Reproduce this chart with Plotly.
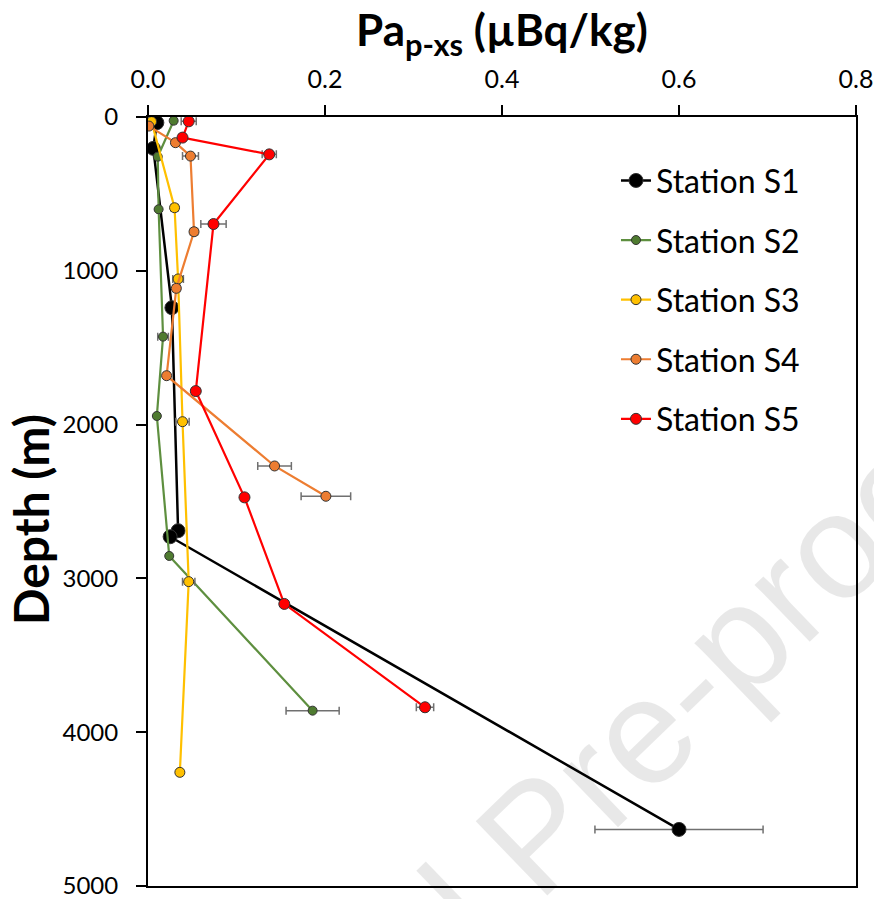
import plotly.graph_objects as go

# ---- data (Pa_p-xs in µBq/kg vs depth in m) ----
s1_x = [0.010, 0.006, 0.027, 0.034, 0.025, 0.600]
s1_d = [37, 204, 1240, 2690, 2729, 4632]
s1_e = [0.002, 0.002, 0.002, 0.002, 0.002, 0.095]

s2_x = [0.029, 0.011, 0.012, 0.017, 0.010, 0.024, 0.186]
s2_d = [24, 258, 600, 1428, 1944, 2854, 3860]
s2_e = [0.003, 0.002, 0.002, 0.006, 0.002, 0.002, 0.030]

s3_x = [0.004, 0.030, 0.034, 0.039, 0.046, 0.036]
s3_d = [30, 590, 1053, 1981, 3021, 4261]
s3_e = [0.002, 0.004, 0.006, 0.0075, 0.007, 0.003]

s4_x = [0.001, 0.031, 0.048, 0.052, 0.032, 0.021, 0.143, 0.201]
s4_d = [59, 167, 254, 746, 1114, 1682, 2269, 2466]
s4_e = [0.002, 0.003, 0.009, 0.004, 0.004, 0.003, 0.019, 0.028]

s5_x = [0.046, 0.039, 0.137, 0.074, 0.054, 0.109, 0.154, 0.313]
s5_d = [28, 134, 243, 696, 1782, 2473, 3166, 3838]
s5_e = [0.0085, 0.004, 0.008, 0.0143, 0.004, 0.004, 0.004, 0.0098]

names = ["Station S1", "Station S2", "Station S3", "Station S4", "Station S5"]
line_colors = ["#000000", "#5E8F3F", "#FFC000", "#ED7D31", "#FF0000"]
marker_colors = ["#000000", "#4F7B30", "#FFC000", "#ED7D31", "#FF0000"]
marker_sizes = [14, 9, 10, 10, 11]
line_widths = [2.5, 2.2, 2.2, 2.2, 2.2]

series = [(s1_x, s1_d, s1_e), (s2_x, s2_d, s2_e), (s3_x, s3_d, s3_e),
          (s4_x, s4_d, s4_e), (s5_x, s5_d, s5_e)]

FONT = "Lato"
W, H = 874, 899
ML, MR, MT, MB = 148, 18, 117, 13
PW, PH = W - ML - MR, H - MT - MB

fig = go.Figure()
for i, (xs, ds, es) in enumerate(series):
    fig.add_trace(go.Scatter(
        x=xs, y=ds, mode="lines+markers", name=names[i],
        legendgroup=names[i],
        line=dict(color=line_colors[i], width=line_widths[i]),
        marker=dict(color=marker_colors[i], size=marker_sizes[i],
                    line=dict(color="#333333", width=1)),
        error_x=dict(type="data", array=es, visible=True,
                     color="#707070", thickness=1.5, width=4),
    ))

fig.update_layout(
    width=W, height=H,
    margin=dict(l=ML, r=MR, t=MT, b=MB, autoexpand=False),
    paper_bgcolor="white", plot_bgcolor="white",
    font=dict(family=FONT, color="black"),
    title=dict(text="<b>Pa<sub>p-xs</sub> (µBq/kg)</b>",
               x=0.5, xref="paper", xanchor="center",
               y=1 - 31 / H, yref="container", yanchor="middle",
               font=dict(family=FONT, size=44, color="black")),
    legend=dict(x=0.661, y=0.953, xanchor="left", yanchor="top",
                font=dict(family=FONT, size=32, color="black"),
                bgcolor="rgba(0,0,0,0)", tracegroupgap=15,
                itemwidth=30),
    showlegend=True,
)

fig.update_xaxes(
    side="top", range=[0, 0.8], dtick=0.2, tickformat=".1f",
    showgrid=False, zeroline=False, automargin=False,
    ticklabeloverflow="allow",
    showline=True, linecolor="black", linewidth=2, mirror=True,
    ticks="outside", ticklen=10, tickwidth=2, tickcolor="black",
    ticklabelstandoff=7,
    tickfont=dict(family=FONT, size=25, color="black"),
)
fig.update_yaxes(
    range=[5000, 0], dtick=1000,
    showgrid=False, zeroline=False, automargin=False,
    ticklabeloverflow="allow",
    showline=True, linecolor="black", linewidth=2, mirror=True,
    ticks="outside", ticklen=10, tickwidth=2, tickcolor="black",
    ticklabelstandoff=13,
    tickfont=dict(family=FONT, size=24, color="black"),
)

# y-axis title
fig.add_annotation(
    text="<b>Depth (m)</b>", xref="paper", yref="paper",
    x=(30 - ML) / PW, y=(H - MB - 520) / PH,
    xanchor="center", yanchor="middle", showarrow=False, textangle=-90,
    font=dict(family=FONT, size=48, color="black"),
)

# watermark
fig.add_annotation(
    text="Journal Pre-proof", xref="paper", yref="paper",
    x=(535 - ML) / PW, y=(H - MB - 835) / PH,
    xanchor="center", yanchor="middle", showarrow=False,
    textangle=-44, font=dict(family="Liberation Sans", size=150,
                             color="rgba(0,0,0,0.09)"),
)

fig.write_html("out.html")
